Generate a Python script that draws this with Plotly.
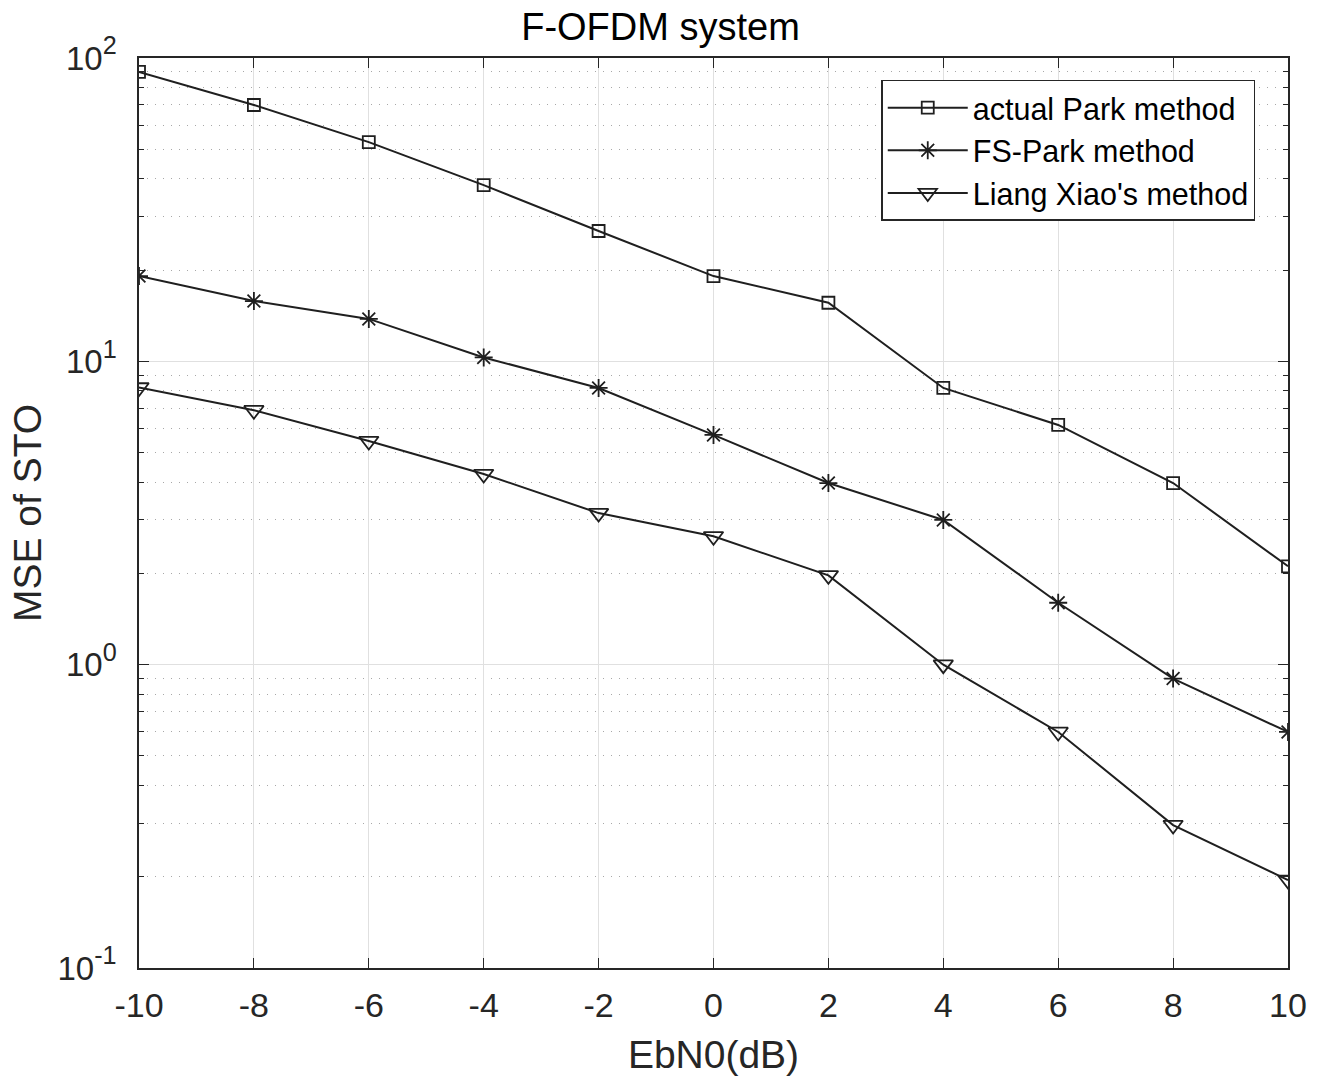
import plotly.graph_objects as go

ebn0 = [-10, -8, -6, -4, -2, 0, 2, 4, 6, 8, 10]
actual_park = [90, 70, 52.8, 38.1, 26.9, 19.1, 15.6, 8.17, 6.17, 3.97, 2.11]
fs_park = [19.1, 15.8, 13.8, 10.3, 8.17, 5.72, 3.97, 3.0, 1.60, 0.90, 0.60]
liang_xiao = [8.2, 6.9, 5.46, 4.25, 3.16, 2.65, 1.97, 1.0, 0.6, 0.296, 0.195]

series_names = ["actual Park method", "FS-Park method", "Liang Xiao's method"]
y_tickvals = [0.1, 1, 10, 100]
y_exponents = ["-1", "0", "1", "2"]
y_ticktext = ["10<span style='font-size:36px'><sup>%s</sup></span>" % e for e in y_exponents]
y_minor = [m * 10 ** e for e in (-1, 0, 1) for m in range(2, 10)]

FONT = "Liberation Sans, Arial, sans-serif"
LINE = "#1f1f1f"

fig = go.Figure()
specs = [
    (actual_park, "square-open", 12),
    (fs_park, "asterisk-open", 15),
    (liang_xiao, "triangle-down-open", 17),
]
for name, (vals, sym, sz) in zip(series_names, specs):
    fig.add_trace(go.Scatter(
        x=ebn0, y=vals, name=name, mode="lines+markers",
        line=dict(color=LINE, width=2),
        marker=dict(symbol=sym, size=sz, color=LINE, line=dict(color=LINE, width=1.8)),
    ))

fig.update_layout(
    width=1321, height=1085,
    margin=dict(l=139, r=33, t=58, b=117),
    paper_bgcolor="white", plot_bgcolor="white",
    font=dict(family=FONT, size=34, color="#262626"),
    title=dict(text="F-OFDM system", x=0.5, xanchor="center", y=0.975, yanchor="middle",
               font=dict(size=38, color="#000000")),
    showlegend=True,
    legend=dict(x=0.646, y=0.976, xanchor="left", yanchor="top",
                bgcolor="white", bordercolor="#262626", borderwidth=1.5,
                font=dict(size=30.5, color="#000000"), tracegroupgap=0,
                itemwidth=80),
)
fig.update_xaxes(
    range=[-10, 10], tickmode="array", tickvals=ebn0, ticktext=[str(v) for v in ebn0],
    showline=True, linecolor="#262626", linewidth=1.5, mirror="ticks",
    ticks="inside", ticklen=10, tickcolor="#262626",
    showgrid=True, gridcolor="#e0e0e0", gridwidth=1, zeroline=False,
    title=dict(text="EbN0(dB)", font=dict(size=39), standoff=18),
    tickfont=dict(size=34), ticklabelstandoff=6,
)
fig.update_yaxes(
    type="log", range=[-1, 2], tickmode="array", tickvals=y_tickvals, ticktext=y_ticktext,
    showline=True, linecolor="#262626", linewidth=1.5, mirror="ticks",
    ticks="inside", ticklen=10, tickcolor="#262626",
    showgrid=True, gridcolor="#e0e0e0", gridwidth=1, zeroline=False,
    minor=dict(tickmode="array", tickvals=y_minor, ticks="inside", ticklen=5,
               tickcolor="#262626", showgrid=True, gridcolor="#a8a8a8",
               griddash="1px,7px", gridwidth=1),
    title=dict(text="MSE of STO", font=dict(size=39), standoff=4),
    tickfont=dict(size=33), ticklabelstandoff=14,
)

fig.write_html("out.html")
